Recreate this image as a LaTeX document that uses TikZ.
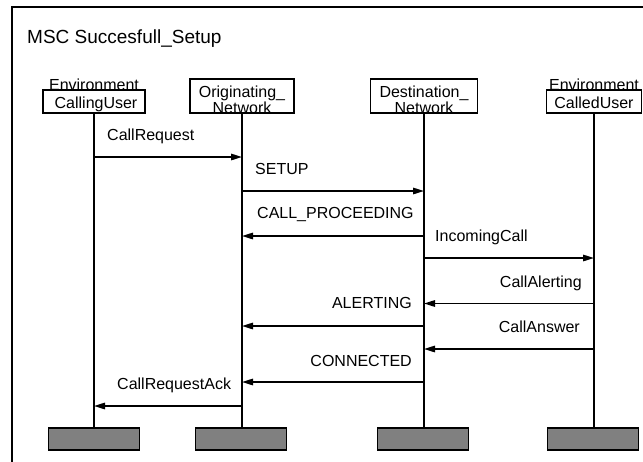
\documentclass[tikz,border=0pt]{standalone}
\usepackage{fontspec}
\setmainfont{Liberation Sans}
\usetikzlibrary{arrows.meta}
\begin{document}
\begin{tikzpicture}[x=1pt,y=-1pt,
  every node/.style={font=\fontsize{16}{17}\selectfont, inner sep=0pt},
  hdrbox/.style={draw, line width=1.5pt, minimum width=#1, anchor=north},
  hdrtwo/.style={align=center, anchor=base, font=\fontsize{16}{14}\selectfont},
  lifeln/.style={line width=1.5pt},
  msg/.style={line width=1.5pt, -{Triangle[length=11pt,width=6.5pt]}},
  stopbox/.style={draw, line width=1.8pt, fill=black!50, minimum width=91pt, minimum height=22pt, anchor=north},
  lbl/.style={anchor=base west},
  lblr/.style={anchor=base east}]
\useasboundingbox (0,0) rectangle (643,461);
% frame
\draw[line width=1.5pt] (12,470) -- (12,7) -- (660,7);
\node[anchor=base west, font=\fontsize{19}{20}\selectfont] (title) at (27,43) {MSC Succesfull\_Setup};
% instance heads
\node[hdrbox=102pt, minimum height=23pt] (cu) at (94,89) {};
\node[hdrbox=104pt, minimum height=34pt] (on) at (242,78) {};
\node[hdrbox=107pt, minimum height=34pt] (dn) at (424,78) {};
\node[hdrbox=95pt, minimum height=23pt] (cd) at (594,89) {};
\node[anchor=base] (cuenv) at (94,90) {Environment};
\node[anchor=base] (cut) at (96,108) {CallingUser};
\node[hdrtwo] (ont) at (242,113) {Originating\_\\Network};
\node[hdrtwo] (dnt) at (424,113) {Destination\_\\Network};
\node[anchor=base] (cdenv) at (594,90) {Environment};
\node[anchor=base] (cdt) at (594,108) {CalledUser};
% stops
\node[stopbox] (scu) at (94,427) {};
\node[stopbox] (son) at (241,427) {};
\node[stopbox] (sdn) at (423,427) {};
\node[stopbox] (scd) at (593,427) {};
% lifelines
\draw[lifeln] (cu.south) -- (cu.south |- scu.north);
\draw[lifeln] (on.south) -- (on.south |- son.north);
\draw[lifeln] (dn.south) -- (dn.south |- sdn.north);
\draw[lifeln] (cd.south) -- (cd.south |- scd.north);
% messages
\draw[msg] (cu.south |- 0,157) -- (on.south |- 0,157);
\node[lbl] (m1) at (107,140) {CallRequest};
\draw[msg] (on.south |- 0,191) -- (dn.south |- 0,191);
\node[lbl] (m2) at (255,174) {SETUP};
\draw[msg] (dn.south |- 0,236) -- (on.south |- 0,236);
\node[lbl] (m3) at (257,218) {CALL\_PROCEEDING};
\draw[msg] (dn.south |- 0,258) -- (cd.south |- 0,258);
\node[lbl] (m4) at (435,241) {IncomingCall};
\draw[msg] (cd.south |- 0,303.5) -- (dn.south |- 0,303.5);
\node[lblr] (m5) at (582,287) {CallAlerting};
\draw[msg] (dn.south |- 0,326) -- (on.south |- 0,326);
\node[lblr] (m6) at (412,308) {ALERTING};
\draw[msg] (cd.south |- 0,349) -- (dn.south |- 0,349);
\node[lblr] (m7) at (580,332) {CallAnswer};
\draw[msg] (dn.south |- 0,382) -- (on.south |- 0,382);
\node[lblr] (m8) at (412,366) {CONNECTED};
\draw[msg] (on.south |- 0,406) -- (cu.south |- 0,406);
\node[lbl] (m9) at (117,389) {CallRequestAck};
\end{tikzpicture}
\end{document}
